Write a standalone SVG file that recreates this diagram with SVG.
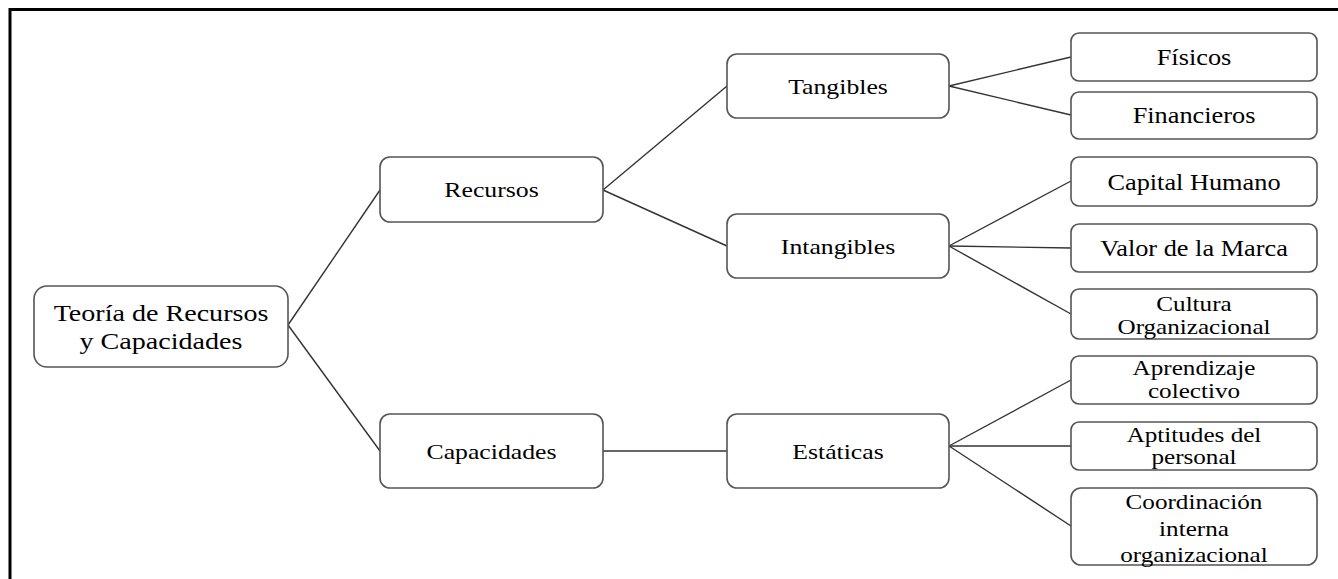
<svg xmlns="http://www.w3.org/2000/svg" width="1338" height="579" viewBox="0 0 1338 579">
<style>
.box{fill:#fff;stroke:#555;stroke-width:1.6}
.t{font-family:"Liberation Serif","Times New Roman",serif;font-size:22px;fill:#000;text-anchor:middle}
.r{font-size:24px}
.s{font-size:22.5px}
.m{font-size:21.5px}
.c line{stroke:#333;stroke-width:1.4}
</style>
<rect width="1338" height="579" fill="#fff"/>
<path d="M1338 9.5 H10 V579" fill="none" stroke="#000" stroke-width="3"/>
<g class="c" id="connectors">
<line x1="288" y1="325" x2="380" y2="190"/>
<line x1="288" y1="325" x2="380" y2="451"/>
<line x1="603" y1="190" x2="727" y2="86"/>
<line x1="603" y1="190" x2="727" y2="246"/>
<line x1="949" y1="86" x2="1071" y2="57"/>
<line x1="949" y1="86" x2="1071" y2="115"/>
<line x1="949" y1="246" x2="1071" y2="181"/>
<line x1="949" y1="246" x2="1071" y2="248"/>
<line x1="949" y1="246" x2="1071" y2="314"/>
<line x1="603" y1="451" x2="727" y2="451"/>
<line x1="949" y1="446" x2="1071" y2="380"/>
<line x1="949" y1="446" x2="1071" y2="446"/>
<line x1="949" y1="446" x2="1071" y2="526"/>
</g>
<g id="root">
<rect class="box" x="34" y="286" width="254" height="81" rx="13"/>
<text class="t r" transform="translate(161 321) scale(1.17 1)">Teoría de Recursos</text>
<text class="t r" transform="translate(161 349) scale(1.17 1)">y Capacidades</text>
</g>
<g id="recursos">
<rect class="box" x="380" y="157" width="223" height="65" rx="10"/>
<text class="t" transform="translate(491.5 197) scale(1.17 1)">Recursos</text>
</g>
<g id="capacidades">
<rect class="box" x="380" y="414" width="223" height="74" rx="10"/>
<text class="t" transform="translate(491.5 459) scale(1.17 1)">Capacidades</text>
</g>
<g id="tangibles">
<rect class="box" x="727" y="54" width="222" height="64" rx="10"/>
<text class="t" transform="translate(838 94) scale(1.17 1)">Tangibles</text>
</g>
<g id="intangibles">
<rect class="box" x="727" y="214" width="222" height="64" rx="10"/>
<text class="t" transform="translate(838 254) scale(1.17 1)">Intangibles</text>
</g>
<g id="estaticas">
<rect class="box" x="727" y="414" width="222" height="74" rx="10"/>
<text class="t" transform="translate(838 459) scale(1.17 1)">Estáticas</text>
</g>
<g id="fisicos">
<rect class="box" x="1071" y="33" width="246" height="48" rx="8"/>
<text class="t s" transform="translate(1194 65) scale(1.17 1)">Físicos</text>
</g>
<g id="financieros">
<rect class="box" x="1071" y="92" width="246" height="47" rx="8"/>
<text class="t s" transform="translate(1194 123) scale(1.17 1)">Financieros</text>
</g>
<g id="capital-humano">
<rect class="box" x="1071" y="157" width="246" height="49" rx="8"/>
<text class="t s" transform="translate(1194 190) scale(1.17 1)">Capital Humano</text>
</g>
<g id="valor-marca">
<rect class="box" x="1071" y="224" width="246" height="48" rx="8"/>
<text class="t s" transform="translate(1194 256) scale(1.17 1)">Valor de la Marca</text>
</g>
<g id="cultura">
<rect class="box" x="1071" y="289" width="246" height="50" rx="8"/>
<text class="t m" transform="translate(1194 311) scale(1.17 1)">Cultura</text>
<text class="t m" transform="translate(1194 334) scale(1.17 1)">Organizacional</text>
</g>
<g id="aprendizaje">
<rect class="box" x="1071" y="356" width="246" height="48" rx="8"/>
<text class="t m" transform="translate(1194 375) scale(1.17 1)">Aprendizaje</text>
<text class="t m" transform="translate(1194 398) scale(1.17 1)">colectivo</text>
</g>
<g id="aptitudes">
<rect class="box" x="1071" y="422" width="246" height="48" rx="8"/>
<text class="t m" transform="translate(1194 442) scale(1.17 1)">Aptitudes del</text>
<text class="t m" transform="translate(1194 464) scale(1.17 1)">personal</text>
</g>
<g id="coordinacion">
<rect class="box" x="1071" y="488" width="246" height="77" rx="10"/>
<text class="t m" transform="translate(1194 509) scale(1.17 1)">Coordinación</text>
<text class="t m" transform="translate(1194 536) scale(1.17 1)">interna</text>
<text class="t m" transform="translate(1194 562) scale(1.17 1)">organizacional</text>
</g>
</svg>
